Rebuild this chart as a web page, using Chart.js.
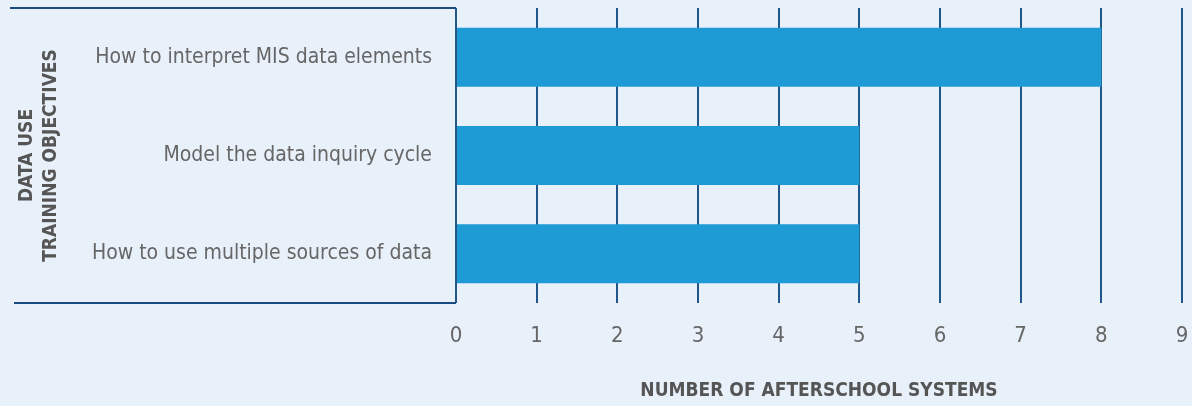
<!DOCTYPE html>
<html>
<head>
<meta charset="utf-8">
<script src="https://cdn.jsdelivr.net/npm/chart.js@4/dist/chart.umd.min.js"></script>
<style>
  html, body { margin: 0; padding: 0; background: #e8f0fa; }
  #wrap { width: 1192px; height: 406px; }
</style>
</head>
<body>
<div id="wrap"><canvas id="chart"></canvas></div>
<script>
const categories = [
    "How to interpret MIS data elements",
    "Model the data inquiry cycle",
    "How to use multiple sources of data"
];
const values = [8, 5, 5];
const x_ticks = [0, 1, 2, 3, 4, 5, 6, 7, 8, 9];
const x_title = "NUMBER OF AFTERSCHOOL SYSTEMS";
const y_title = ["DATA USE", "TRAINING OBJECTIVES"];

const FONT = "'Liberation Sans Narrow', 'DejaVu Sans Condensed', 'Noto Sans', sans-serif";
const LINE = "#21568b";

// lines above and below the category labels
const label_box = {
    id: "label_box",
    beforeDatasetsDraw(chart) {
        const ctx = chart.ctx;
        const area = chart.chartArea;
        ctx.save();
        ctx.strokeStyle = "#1b4a7e";
        ctx.lineWidth = 2;
        ctx.beginPath();
        ctx.moveTo(10, area.top);
        ctx.lineTo(area.left, area.top);
        ctx.moveTo(14, area.bottom);
        ctx.lineTo(area.left, area.bottom);
        ctx.stroke();
        ctx.restore();
    }
};

const ctx = document.getElementById("chart").getContext("2d");
const myChart = new Chart(ctx, {
    type: "bar",
    data: {
        labels: categories,
        datasets: [{
            data: values,
            backgroundColor: "#1e9bd4",
            borderWidth: 0,
            categoryPercentage: 1.0,
            barPercentage: 0.6
        }]
    },
    options: {
        indexAxis: "y",
        responsive: true,
        maintainAspectRatio: false,
        animation: false,
        layout: { padding: { top: 8, right: 10, left: 0, bottom: 0 } },
        scales: {
            x: {
                min: x_ticks[0],
                max: x_ticks[x_ticks.length - 1],
                afterBuildTicks: (scale) => { scale.ticks = x_ticks.map(v => ({ value: v })); },
                afterFit: (scale) => {
                    scale.height = 103;
                    scale.paddingLeft = 0;
                    scale.paddingRight = 0;
                },
                grid: { color: LINE, lineWidth: 2, drawTicks: false, tickLength: 0 },
                border: { display: false },
                ticks: {
                    color: "#666",
                    padding: 20,
                    font: { family: FONT, size: 22 }
                },
                title: {
                    display: true,
                    text: x_title,
                    color: "#555",
                    padding: { top: 0, bottom: 4 },
                    font: { family: FONT, size: 19, weight: "bold" }
                }
            },
            y: {
                afterFit: (scale) => {
                    scale.width = 456;
                    scale.paddingTop = 0;
                    scale.paddingBottom = 0;
                },
                grid: { display: false },
                border: { display: false },
                ticks: {
                    color: "#666",
                    padding: 16,
                    font: { family: FONT, size: 21 }
                },
                title: {
                    display: true,
                    text: y_title,
                    color: "#555",
                    padding: { top: 15, bottom: 0 },
                    font: { family: FONT, size: 19, weight: "bold", lineHeight: 1.26 }
                }
            }
        },
        plugins: {
            legend: { display: false },
            tooltip: { enabled: false }
        }
    },
    plugins: [label_box]
});
</script>
</body>
</html>
